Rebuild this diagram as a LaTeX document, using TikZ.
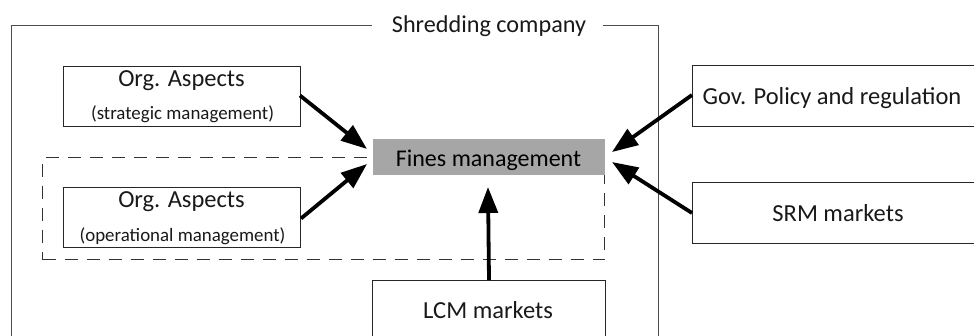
\documentclass[tikz,border=0pt]{standalone}
\usepackage{fontspec}
\setmainfont{Carlito}
\usetikzlibrary{arrows.meta}
\begin{document}
\begin{tikzpicture}[x=1pt,y=-1pt,
  box/.style={draw=black!85, line width=1pt, fill=white, inner sep=0pt, anchor=north west},
  big/.style={font=\fontsize{24.5}{28}\selectfont, text=black!90, inner sep=0pt, anchor=base},
  small/.style={font=\fontsize{18.9}{22}\selectfont, text=black!90, inner sep=0pt, anchor=base},
  frameline/.style={draw=black!70, line width=1pt},
  dashbox/.style={draw=black!80, line width=1pt, dash pattern=on 13pt off 9pt, inner sep=0pt, anchor=north west},
  finesbox/.style={fill=black!35, inner sep=0pt, anchor=north west},
  arr/.style={line width=3.8pt, -{Triangle[length=26pt,width=19pt]}}
]
\useasboundingbox (0,0) rectangle (974,335);
\clip (0,0) rectangle (974,335);
% company frame
\draw[frameline] (11,345) -- (11,25) -- (372,25) (603,25) -- (658,25) -- (658,345);
\node[big, font=\fontsize{24.2}{28}\selectfont] (title) at (489,32) {Shredding company};
% dashed operational area
\node[dashbox, minimum width=562pt, minimum height=102pt] (dash) at (42,157) {};
% boxes
\node[box, minimum width=237pt, minimum height=60pt] (strat) at (63,66) {};
\node[big] at (181.5,86) {Org. Aspects};
\node[small] at (182.5,119) {(strategic management)};
\node[box, minimum width=237pt, minimum height=60pt] (oper) at (63,187) {};
\node[big] at (181.5,207) {Org. Aspects};
\node[small] at (182.5,241) {(operational management)};
\node[finesbox, minimum width=232pt, minimum height=36pt] (fines) at (373,139) {};
\node[big, font=\fontsize{24}{28}\selectfont, text=black] at (488.5,166) {Fines management};
\node[box, minimum width=233pt, minimum height=70pt] (lcm) at (372,280) {};
\node[big] at (488,318) {LCM markets};
\node[box, minimum width=290pt, minimum height=61pt] (gov) at (692,65) {};
\node[big] at (832,104) {Gov. Policy and regulation};
\node[box, minimum width=290pt, minimum height=61pt] (srm) at (692,182) {};
\node[big] at (838,221) {SRM markets};
% arrow tips
\coordinate (tstrat) at (367,149);
\coordinate (toper) at (367,164);
\coordinate (tlcm) at (488,187);
\coordinate (tgov) at (612,152);
\coordinate (tsrm) at (612,162);
\draw[arr] (strat.east) ++(-1,-1) -- (tstrat);
\draw[arr] ([yshift=-1pt]oper.east) -- (toper);
\draw[arr] (lcm.north) -- (tlcm);
\draw[arr] ([yshift=1pt]gov.west) -- (tgov);
\draw[arr] (srm.west) -- (tsrm);
\end{tikzpicture}
\end{document}
